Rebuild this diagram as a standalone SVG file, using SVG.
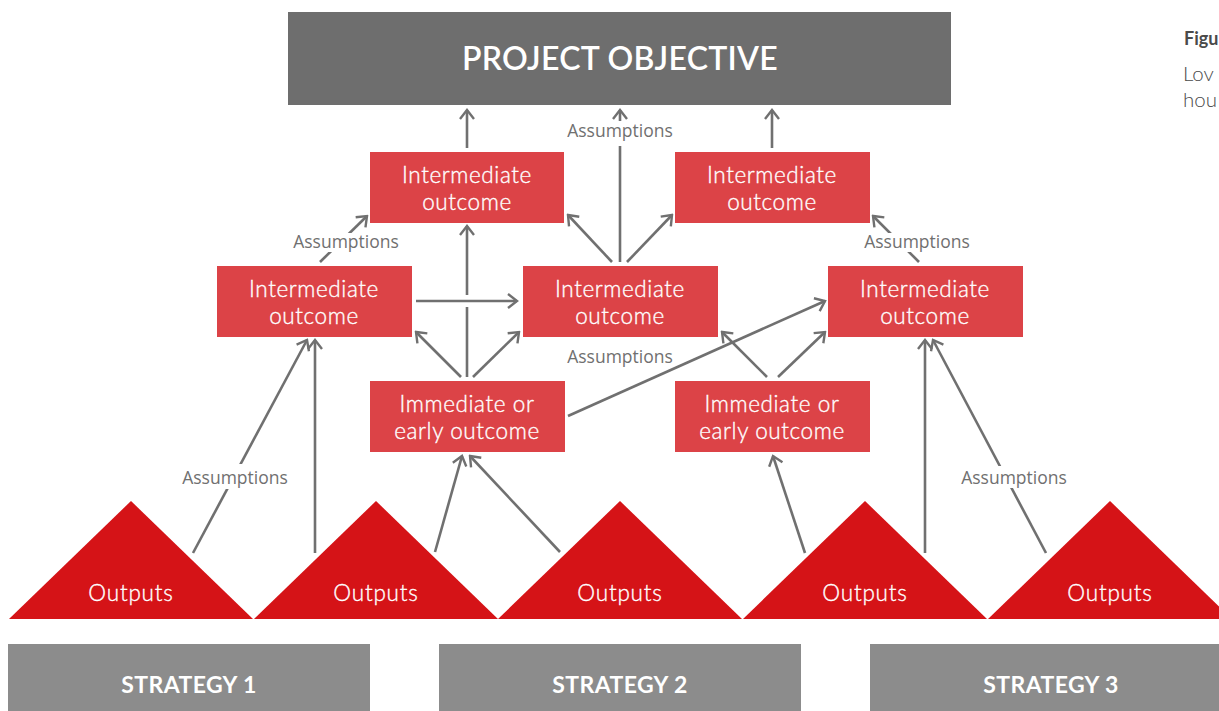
<svg xmlns="http://www.w3.org/2000/svg" width="1219" height="711" viewBox="0 0 1219 711">
<style>
.obj{fill:#6e6e6e}
.strat{fill:#8c8c8c}
.box{fill:#dc4347}
.tri{fill:#d51317}
.t{font-family:Lato,"Open Sans","Liberation Sans",sans-serif;fill:#fff;text-anchor:middle}
.bt{font-size:22.5px;font-weight:300;letter-spacing:0.6px;stroke:#fff;stroke-width:0.35px}
.ot{font-size:22.5px;font-weight:300;letter-spacing:0.8px;stroke:#fff;stroke-width:0.35px}
.hd{font-size:32px;font-weight:600;letter-spacing:0.3px}
.st{font-size:23px;font-weight:700;letter-spacing:0.4px}
.lab{font-family:"Open Sans","Liberation Sans",sans-serif;font-size:17.5px;font-weight:400;fill:#707070;text-anchor:middle}
.bg{fill:#fff}
.c{stroke:#707070;stroke-width:2.6;fill:none}
.side{font-family:Lato,"Open Sans","Liberation Sans",sans-serif;fill:#4a4a4a}
</style>
<defs>
<marker id="ah" viewBox="-12 -10 14 20" refX="0" refY="0" markerWidth="14" markerHeight="20" orient="auto" markerUnits="userSpaceOnUse">
<path d="M-9,-7 L0,0 L-9,7" fill="none" stroke="#707070" stroke-width="2.4"/>
</marker>
</defs>
<rect width="1219" height="711" fill="#fff"/>

<g id="objective">
<rect class="obj" x="288" y="12" width="663" height="93"/>
<text class="t hd" x="620" y="70">PROJECT OBJECTIVE</text>
</g>

<g id="strategy1"><rect class="strat" x="8" y="644" width="362" height="67"/><text class="t st" x="189" y="693">STRATEGY 1</text></g>
<g id="strategy2"><rect class="strat" x="439" y="644" width="362" height="67"/><text class="t st" x="620" y="693">STRATEGY 2</text></g>
<g id="strategy3"><rect class="strat" x="870" y="644" width="349" height="67"/><text class="t st" x="1051" y="693">STRATEGY 3</text></g>

<g id="outputs1"><polygon class="tri" points="9,619 131,501 253,619"/><text class="t ot" x="131" y="601">Outputs</text></g>
<g id="outputs2"><polygon class="tri" points="254,619 376,501 498,619"/><text class="t ot" x="376" y="601">Outputs</text></g>
<g id="outputs3"><polygon class="tri" points="498,619 620,501 742,619"/><text class="t ot" x="620" y="601">Outputs</text></g>
<g id="outputs4"><polygon class="tri" points="743,619 865,501 987,619"/><text class="t ot" x="865" y="601">Outputs</text></g>
<g id="outputs5"><polygon class="tri" points="988,619 1110,501 1232,619"/><text class="t ot" x="1110" y="601">Outputs</text></g>

<g id="int-top-left"><rect class="box" x="370" y="152" width="194" height="71"/><text class="t bt" x="467" y="183">Intermediate</text><text class="t bt" x="467" y="210">outcome</text></g>
<g id="int-top-right"><rect class="box" x="675" y="152" width="195" height="71"/><text class="t bt" x="772" y="183">Intermediate</text><text class="t bt" x="772" y="210">outcome</text></g>
<g id="int-mid-left"><rect class="box" x="217" y="266" width="195" height="71"/><text class="t bt" x="314" y="297">Intermediate</text><text class="t bt" x="314" y="324">outcome</text></g>
<g id="int-mid-center"><rect class="box" x="523" y="266" width="195" height="71"/><text class="t bt" x="620" y="297">Intermediate</text><text class="t bt" x="620" y="324">outcome</text></g>
<g id="int-mid-right"><rect class="box" x="828" y="266" width="195" height="71"/><text class="t bt" x="925" y="297">Intermediate</text><text class="t bt" x="925" y="324">outcome</text></g>
<g id="imm-left"><rect class="box" x="370" y="381" width="195" height="71"/><text class="t bt" x="467" y="412">Immediate or</text><text class="t bt" x="467" y="439">early outcome</text></g>
<g id="imm-right"><rect class="box" x="675" y="381" width="195" height="71"/><text class="t bt" x="772" y="412">Immediate or</text><text class="t bt" x="772" y="439">early outcome</text></g>

<g id="connectors">
<line class="c" x1="467" y1="148" x2="467" y2="110" marker-end="url(#ah)"/>
<line class="c" x1="772" y1="148" x2="772" y2="110" marker-end="url(#ah)"/>
<line class="c" x1="620" y1="262" x2="620" y2="110" marker-end="url(#ah)"/>
<line class="c" x1="612" y1="262" x2="568" y2="215" marker-end="url(#ah)"/>
<line class="c" x1="627" y1="262" x2="672" y2="215" marker-end="url(#ah)"/>
<line class="c" x1="320" y1="262" x2="367" y2="216" marker-end="url(#ah)"/>
<line class="c" x1="919" y1="262" x2="873" y2="216" marker-end="url(#ah)"/>
<line class="c" x1="416" y1="301" x2="517" y2="301" marker-end="url(#ah)"/>
<line class="c" x1="467" y1="295" x2="467" y2="226" marker-end="url(#ah)"/>
<line class="c" x1="467" y1="307" x2="467" y2="377"/>
<line class="c" x1="461" y1="377" x2="416" y2="332" marker-end="url(#ah)"/>
<line class="c" x1="473" y1="377" x2="519" y2="332" marker-end="url(#ah)"/>
<line class="c" x1="568" y1="416" x2="825" y2="301" marker-end="url(#ah)"/>
<line class="c" x1="767" y1="377" x2="722" y2="332" marker-end="url(#ah)"/>
<line class="c" x1="778" y1="377" x2="825" y2="332" marker-end="url(#ah)"/>
<line class="c" x1="193" y1="553" x2="307" y2="340" marker-end="url(#ah)"/>
<line class="c" x1="315" y1="553" x2="315" y2="340" marker-end="url(#ah)"/>
<line class="c" x1="435" y1="552" x2="462" y2="456" marker-end="url(#ah)"/>
<line class="c" x1="560" y1="552" x2="470" y2="456" marker-end="url(#ah)"/>
<line class="c" x1="805" y1="553" x2="773" y2="456" marker-end="url(#ah)"/>
<line class="c" x1="925" y1="553" x2="925" y2="340" marker-end="url(#ah)"/>
<line class="c" x1="1046" y1="553" x2="933" y2="340" marker-end="url(#ah)"/>
<g id="labels">
<rect class="bg" x="564" y="121" width="112" height="25"/>
<text class="lab" x="620" y="137">Assumptions</text>
<rect class="bg" x="290" y="233" width="112" height="19"/>
<text class="lab" x="346" y="248">Assumptions</text>
<rect class="bg" x="861" y="233" width="112" height="19"/>
<text class="lab" x="917" y="248">Assumptions</text>
<text class="lab" x="620" y="363">Assumptions</text>
<rect class="bg" x="179" y="464" width="112" height="25"/>
<text class="lab" x="235" y="484">Assumptions</text>
<rect class="bg" x="958" y="466" width="112" height="22"/>
<text class="lab" x="1014" y="484">Assumptions</text>
</g>
</g>

<g id="side-text">
<text class="side" x="1184" y="45" font-size="18" font-weight="700" fill="#222">Figu</text>
<text class="side" x="1183" y="81" font-size="20.5" font-weight="300">Lov</text>
<text class="side" x="1183" y="107" font-size="20.5" font-weight="300">hou</text>
</g>
</svg>
